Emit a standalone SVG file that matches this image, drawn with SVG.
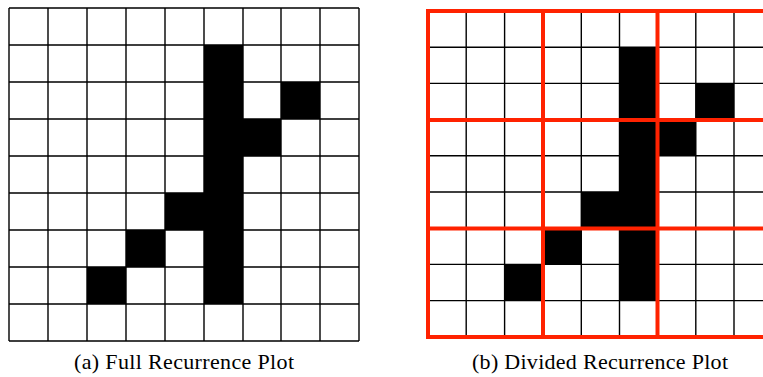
<svg xmlns="http://www.w3.org/2000/svg" width="763" height="377" viewBox="0 0 763 377">
<style>
.g{stroke:#000;stroke-width:1.4;fill:none}
.r{stroke:#ff2200;stroke-width:4;fill:none}
.b{fill:#000}
.t{font-family:"Liberation Serif","Times New Roman",serif;font-size:22px;fill:#000}
</style>
<rect width="763" height="377" fill="#fff"/>
<g id="full-plot">
<g class="b">
<rect x="204" y="45" width="39" height="259"/>
<rect x="281" y="82" width="39" height="37"/>
<rect x="243" y="119" width="38" height="37"/>
<rect x="165" y="193" width="39" height="37"/>
<rect x="126" y="230" width="39" height="37"/>
<rect x="87" y="267" width="39" height="37"/>
</g>
<path class="g" d="M9 8V341M48 8V341M87 8V341M126 8V341M165 8V341M204 8V341M243 8V341M281 8V341M320 8V341M359 8V341M9 8H359M9 45H359M9 82H359M9 119H359M9 156H359M9 193H359M9 230H359M9 267H359M9 304H359M9 341H359"/>
<text class="t" x="74" y="369" textLength="220" lengthAdjust="spacing">(a)  Full Recurrence Plot</text>
</g>
<g id="divided-plot">
<g class="b">
<rect x="619.5" y="47.2" width="38.2" height="253.5"/>
<rect x="695.8" y="83.4" width="38.2" height="36.2"/>
<rect x="657.7" y="119.6" width="38.2" height="36.2"/>
<rect x="581.3" y="192" width="38.2" height="36.2"/>
<rect x="543.2" y="228.2" width="38.2" height="36.2"/>
<rect x="505" y="264.4" width="38.2" height="36.2"/>
</g>
<path class="g" d="M466.2 11V337M504.6 11V337M581.3 11V337M619.5 11V337M695.8 11V337M734 11V337M428 47.2H772M428 83.4H772M428 155.8H772M428 192H772M428 264.4H772M428 300.6H772"/>
<path class="r" d="M428 11V337M543 11V337M657.5 11V337M426 11H772M426 120H772M426 228.5H772M426 337H772"/>
<text class="t" x="472" y="369" textLength="256" lengthAdjust="spacing">(b)  Divided Recurrence Plot</text>
</g>
</svg>
